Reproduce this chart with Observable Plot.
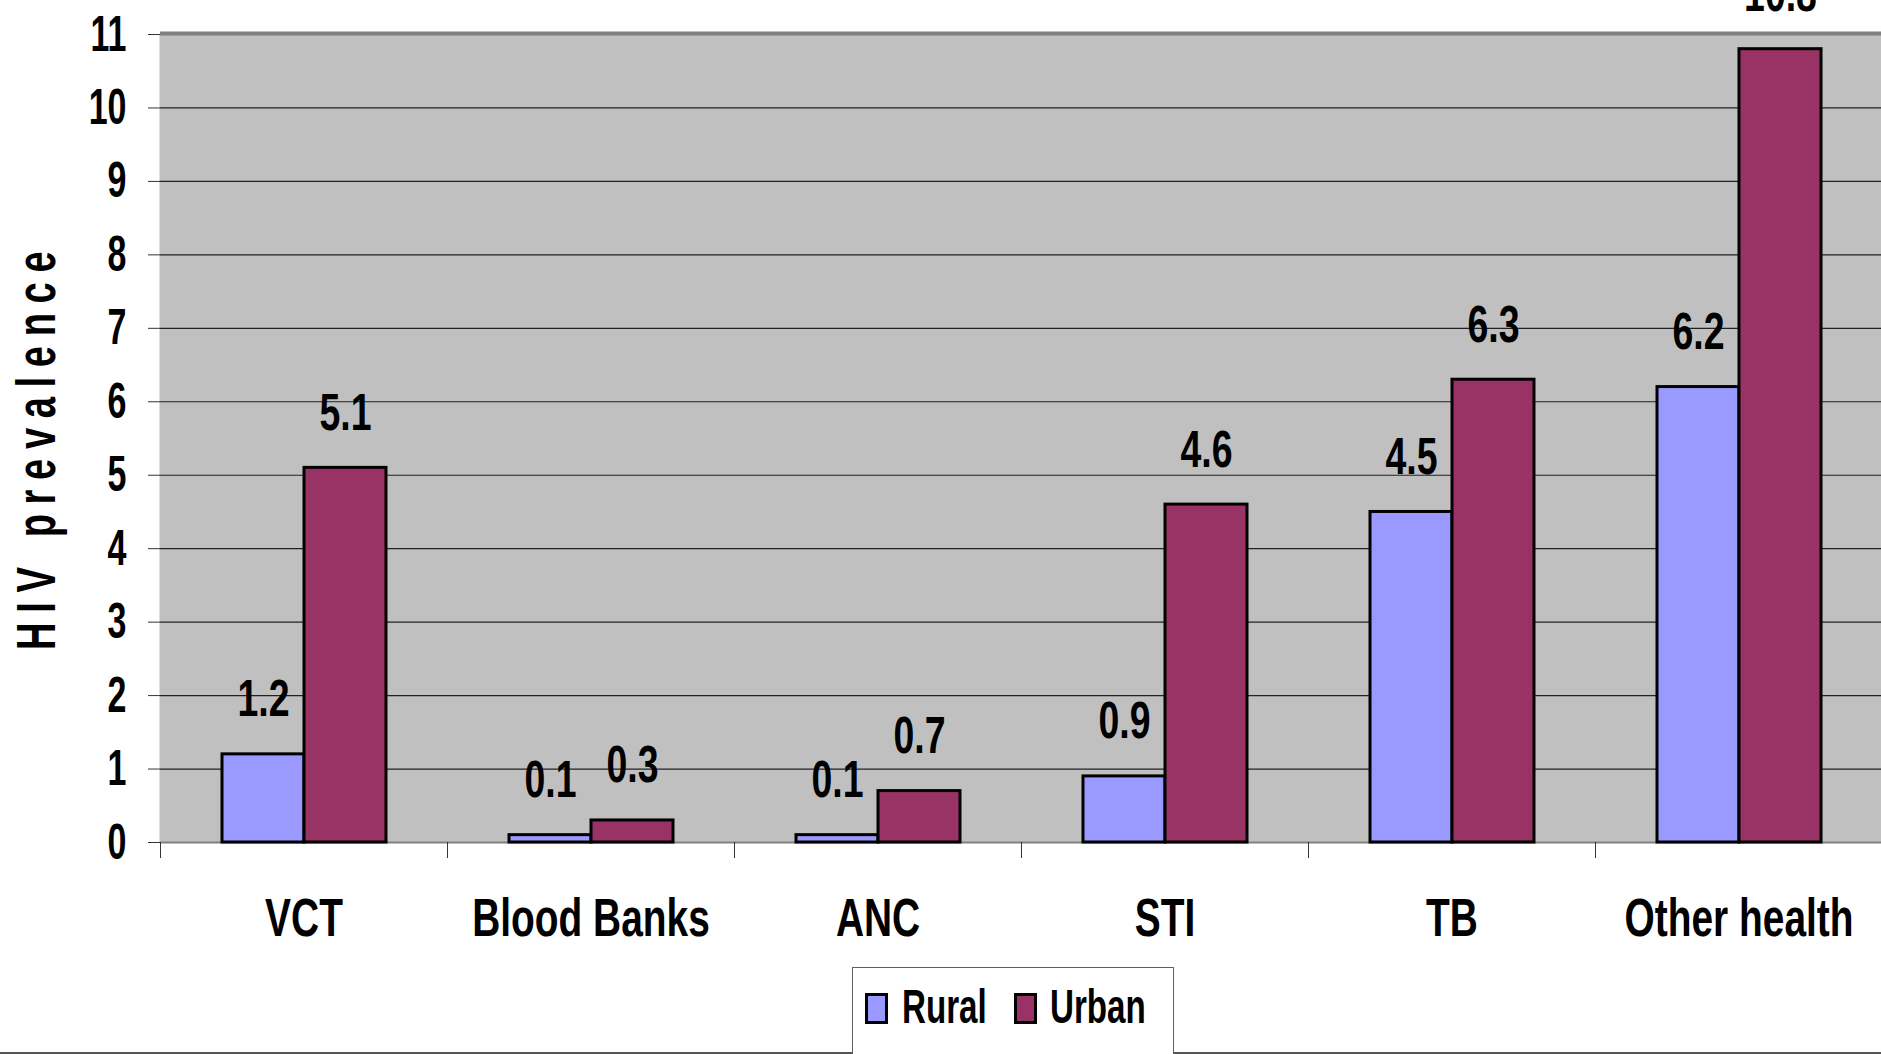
<!DOCTYPE html>
<html>
<head>
<meta charset="utf-8">
<script src="https://cdn.jsdelivr.net/npm/d3@7"></script>
<script src="https://cdn.jsdelivr.net/npm/@observablehq/plot@0.6"></script>
<style>
  html, body { margin: 0; padding: 0; background: #fff; overflow: hidden; width: 1881px; height: 1054px; }
  #wrap { position: relative; width: 1881px; height: 1054px; }
  .nf { font-family: "Liberation Sans", Arial, sans-serif; font-weight: bold; color: #000; }
  #ytitle { position: absolute; left: 8px; top: 650px; transform: rotate(-90deg) scaleX(0.68); transform-origin: 0 0; white-space: nowrap; font-size: 56px; line-height: 56px; letter-spacing: 14.2px; }
  #legend { position: absolute; left: 852px; top: 967px; width: 322px; height: 110px; border: 1px solid #606060; background: #fff; box-sizing: border-box; }
  .sw { position: absolute; top: 25px; width: 17px; height: 25px; border: 3px solid #000; }
  .lt { position: absolute; top: 15px; font-size: 48px; line-height: 48px; white-space: nowrap; transform: scaleX(0.69); transform-origin: 0 0; }
  #bottomline { position: absolute; left: 0; top: 1052px; width: 1881px; height: 2px; background: #555; }
</style>
</head>
<body>
<div id="wrap">
  <div id="chart"></div>
  <div id="ytitle" class="nf">HIV prevalence</div>
  <div id="bottomline"></div>
  <div id="legend" class="nf"></div>
</div>
<script>
const categories = ["VCT", "Blood Banks", "ANC", "STI", "TB", "Other health"];
const series = ["Rural", "Urban"];
const rural = [1.2, 0.1, 0.1, 0.9, 4.5, 6.2];
const urban = [5.1, 0.3, 0.7, 4.6, 6.3, 10.8];
const yTicks = [0, 1, 2, 3, 4, 5, 6, 7, 8, 9, 10, 11];
const colors = ["#9999FF", "#993366"];

const data = [];
categories.forEach((c, i) => {
  data.push({category: c, series: "Rural", value: rural[i]});
  data.push({category: c, series: "Urban", value: urban[i]});
});

const fontFamily = '"Liberation Sans", Arial, sans-serif';

const plot = Plot.plot({
  width: 1881,
  height: 960,
  marginTop: 34,
  marginBottom: 118,
  marginLeft: 159,
  marginRight: -1,
  style: {fontFamily, fontWeight: "bold", fontSize: "52px", background: "#fff", color: "#000", overflow: "visible"},
  fx: {domain: categories, padding: 0, label: null},
  x: {domain: series, paddingInner: 0, paddingOuter: 0.73, axis: null},
  y: {domain: [0, 11], label: null},
  color: {domain: series, range: colors},
  marks: [
    Plot.frame({fill: "#C0C0C0", stroke: null, insetLeft: -1, insetRight: -1}),
    Plot.gridY(yTicks, {stroke: "#222", strokeOpacity: 1, strokeWidth: 1.2}),
    Plot.ruleY([11], {stroke: "#808080", strokeWidth: 4, dy: -1}),
    Plot.ruleY([0], {stroke: "#808080", strokeWidth: 2}),
    Plot.barY(data, {fx: "category", x: "series", y: "value", fill: "series", stroke: "#000", strokeWidth: 3}),
    Plot.text(data, {fx: "category", x: "series", y: "value", text: d => d.value.toFixed(1), lineAnchor: "bottom", dy: -38, fontSize: 52, fill: "#000"}),
    Plot.axisY({ticks: yTicks, tickSize: 12, tickPadding: 22, line: true, stroke: "#333", fontSize: 50, label: null}),
    Plot.axisFx({anchor: "bottom", tickSize: 0, tickPadding: 55, fontSize: 54, label: null}),
    Plot.axisFx({anchor: "bottom", tickSize: 16, tickFormat: () => "", dx: -143.5, stroke: "#333", label: null})
  ]
});
document.getElementById("chart").appendChild(plot);

// condense the bold sans text horizontally, like a narrow face
plot.querySelectorAll("text").forEach(t => {
  const len = t.getComputedTextLength();
  if (len > 0) {
    const g = t.closest("g[aria-label]");
    const lab = g ? g.getAttribute("aria-label") : "";
    const ratio = lab.startsWith("y-axis") ? 0.68 : 0.72;
    t.setAttribute("textLength", (len * ratio).toFixed(2));
    t.setAttribute("lengthAdjust", "spacingAndGlyphs");
  }
});

const legend = document.getElementById("legend");
const swLeft = [12, 161];
const txtLeft = [49, 197];
series.forEach((s, i) => {
  const sw = document.createElement("div");
  sw.className = "sw";
  sw.style.left = swLeft[i] + "px";
  sw.style.background = colors[i];
  const t = document.createElement("div");
  t.className = "lt";
  t.style.left = txtLeft[i] + "px";
  t.textContent = s;
  legend.appendChild(sw);
  legend.appendChild(t);
});
</script>
</body>
</html>
